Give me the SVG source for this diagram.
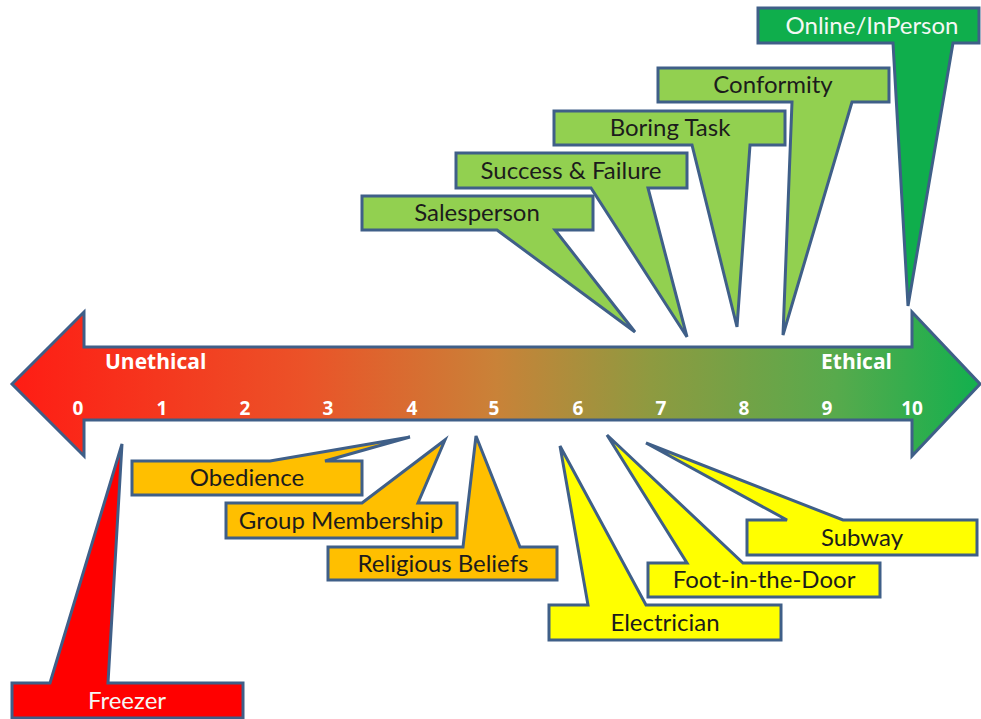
<svg xmlns="http://www.w3.org/2000/svg" width="981" height="719" viewBox="0 0 981 719">
<style>
.co{stroke:#3f5f88;stroke-width:3;stroke-linejoin:miter}
.lg{fill:#92d050}.dg{fill:#0fae4c}.or{fill:#ffbf00}.ye{fill:#ffff00}.rd{fill:#ff0000}
.t{font-family:Lato,"Open Sans",sans-serif;font-size:24px;text-anchor:middle;fill:#1c1c1c}
.w{fill:#f4f8f4}
.a{font-family:"Open Sans",Lato,sans-serif;font-weight:bold;fill:#ffffff}
.n{font-size:19px;text-anchor:middle}
.l{font-size:21px}
</style>
<defs>
<linearGradient id="g" x1="12" y1="0" x2="980" y2="0" gradientUnits="userSpaceOnUse">
<stop offset="0" stop-color="#ff1c14"/>
<stop offset="0.3" stop-color="#eb5228"/>
<stop offset="0.5" stop-color="#c98238"/>
<stop offset="0.66" stop-color="#8e9a40"/>
<stop offset="0.85" stop-color="#58aa4c"/>
<stop offset="1" stop-color="#12b04e"/>
</linearGradient>
</defs>
<g id="scale-arrow">
<path class="co" fill="url(#g)" d="M12,384 L84,312 V347 H912 V312 L980,384 L912,456 V420 H84 V456 Z"/>
<text class="a l" x="105" y="369">Unethical</text>
<text class="a l" x="821" y="369">Ethical</text>
<g class="a n">
<text x="78" y="415">0</text><text x="162" y="415">1</text><text x="245" y="415">2</text><text x="328" y="415">3</text><text x="412" y="415">4</text><text x="494" y="415">5</text><text x="578" y="415">6</text><text x="661" y="415">7</text><text x="744" y="415">8</text><text x="827" y="415">9</text><text x="912" y="415">10</text>
</g>
</g>
<g id="connectors"></g>
<g id="salesperson"><path class="co lg" d="M362,196 H593 V230 H555 L635,332 L497,230 H362 Z"/><text class="t" x="477" y="221">Salesperson</text></g>
<g id="success-failure"><path class="co lg" d="M456,153 H687 V188 H648 L687,337 L591,188 H456 Z"/><text class="t" x="571" y="179">Success &amp; Failure</text></g>
<g id="boring-task"><path class="co lg" d="M554,111 H785 V145 H750 L737,327 L692,145 H554 Z"/><text class="t" x="670" y="136">Boring Task</text></g>
<g id="conformity"><path class="co lg" d="M658,68 H889 V102 H852 L783,335 L792,102 H658 Z"/><text class="t" x="773" y="93">Conformity</text></g>
<g id="online-inperson"><path class="co dg" d="M758,8 H979 V43 H953 L908,306 L893,43 H758 Z"/><text class="t w" x="872" y="34">Online/InPerson</text></g>
<g id="freezer"><path class="co rd" d="M12,683 H50 L122,444 L108,683 H243 V718 H12 Z"/><text class="t w" x="127" y="709">Freezer</text></g>
<g id="obedience"><path class="co or" d="M132,461 H270 L410,437 L325,461 H362 V495 H132 Z"/><text class="t" x="247" y="486">Obedience</text></g>
<g id="group-membership"><path class="co or" d="M226,503 H362 L445,440 L418,503 H457 V538 H226 Z"/><text class="t" x="341" y="529">Group Membership</text></g>
<g id="religious-beliefs"><path class="co or" d="M328,547 H463 L476,436 L520,547 H557 V580 H328 Z"/><text class="t" x="443" y="572">Religious Beliefs</text></g>
<g id="electrician"><path class="co ye" d="M549,605 H588 L560,446 L646,605 H781 V640 H549 Z"/><text class="t" x="665" y="631">Electrician</text></g>
<g id="foot-in-the-door"><path class="co ye" d="M648,563 H687 L607,435 L743,563 H880 V597 H648 Z"/><text class="t" x="764" y="588">Foot-in-the-Door</text></g>
<g id="subway"><path class="co ye" d="M747,520 H787 L646,443 L843,520 H977 V555 H747 Z"/><text class="t" x="862" y="546">Subway</text></g>
</svg>
